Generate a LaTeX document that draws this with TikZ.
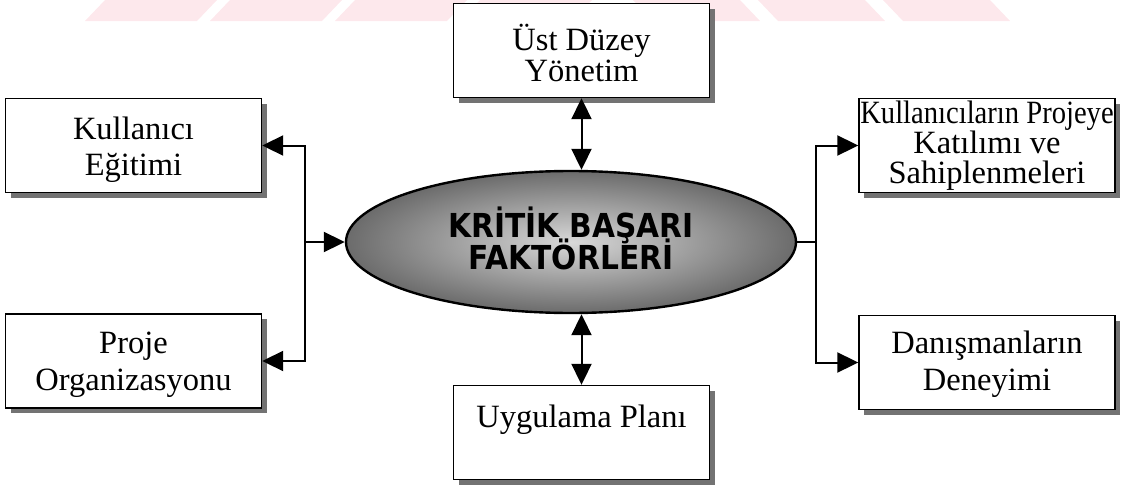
\documentclass[tikz,border=0pt]{standalone}
\usepackage{fontspec}
\usepackage{graphicx}
\setmainfont{Liberation Serif}
\newfontfamily\ellfont[FakeStretch=0.9]{DejaVu Sans}
\usetikzlibrary{arrows.meta,shadows,calc,shapes.geometric}
\definecolor{wmpink}{RGB}{253,232,236}
% fixed-height strut so every line block has the same vertical metrics
\newcommand{\ts}{\rule[-10pt]{0pt}{40pt}}

\tikzset{
  box/.style={draw=black, line width=1.4pt, fill=white,
    minimum width=256pt, minimum height=94pt, inner sep=0pt,
    drop shadow={shadow xshift=5pt, shadow yshift=-5pt, fill=black!55, opacity=1}},
  txt/.style={inner sep=0pt, align=center,
    font=\fontsize{32.5}{#1}\selectfont,
    execute at begin node={\lineskiplimit=-100pt}},
  ell/.style={ellipse, draw=black, line width=2.4pt,
    minimum width=450pt, minimum height=142pt, inner sep=0pt,
    inner color=black!15, outer color=black!58},
  elltxt/.style={inner sep=0pt, align=center,
    font=\ellfont\bfseries\fontsize{33}{32}\selectfont,
    execute at begin node={\lineskiplimit=-100pt}},
  conn/.style={line width=2pt, draw=black},
  >={Triangle[length=21pt,width=20pt]}
}

\begin{document}
\begin{tikzpicture}[x=1pt,y=-1pt]
\useasboundingbox (0,0) rectangle (1130,490);

% faint stripes along the top edge
\foreach \b in {85,210,335,460}
  \fill[wmpink] (\b,21) -- (\b+112,21) -- (\b+132,0) -- (\b+20,0) -- cycle;
\foreach \t in {633,758,883}
  \fill[wmpink] (\t,0) -- (\t+107,0) -- (\t+127,21) -- (\t+20,21) -- cycle;

% central ellipse
\node[ell] (ell) at (571,242) {};
\node[elltxt] (ellT) at (571,243) {\ts KRİTİK BAŞARI\\\ts FAKTÖRLERİ};

% surrounding boxes
\node[box] (top)   at (581.5,50.5)  {};
\node[box] (kul)   at (133.5,145.5) {};
\node[box] (proje) at (133.5,361)   {};
\node[box] (kat)   at (987,145.5)   {};
\node[box] (dan)   at (987,362.5)   {};
\node[box] (uyg)   at (581.5,432.5) {};

\node[txt=31] (topT)   at ($(top.center)+(0,5)$)     {\ts Üst Düzey\\\ts Yönetim};
\node[txt=36] (kulT)   at ($(kul.center)+(0,1.5)$)   {\ts Kullanıcı\\\ts Eğitimi};
\node[txt=37] (projeT) at ($(proje.center)+(0,0.5)$) {\ts Proje\\\ts Organizasyonu};
\node[txt=30] (katT)   at ($(kat.center)+(0,-2.5)$)  {\ts\scalebox{0.88}[1]{Kullanıcıların Projeye}\\\ts Katılımı ve\\\ts Sahiplenmeleri};
\node[txt=37] (danT)   at ($(dan.center)+(0,-1)$)    {\ts Danışmanların\\\ts Deneyimi};
\node[txt=30] (uygT)   at ($(uyg.center)+(0,-15.5)$) {\ts Uygulama Planı};

% connectors
\coordinate (lsp) at (305,242);
\coordinate (rsp) at (816,242);
\draw[conn,->] (lsp) -- (ell.west);
\draw[conn,->] (lsp) |- (kul.east);
\draw[conn,->] (lsp) |- (proje.east);
\draw[conn] (ell.east) -- (rsp);
\draw[conn,->] (rsp) |- (kat.west);
\draw[conn,->] (rsp) |- (dan.west);
\draw[conn,<->] (top.south) -- (top.south |- ell.north);
\draw[conn,<->] (uyg.north) -- (uyg.north |- ell.south);
\end{tikzpicture}
\end{document}
